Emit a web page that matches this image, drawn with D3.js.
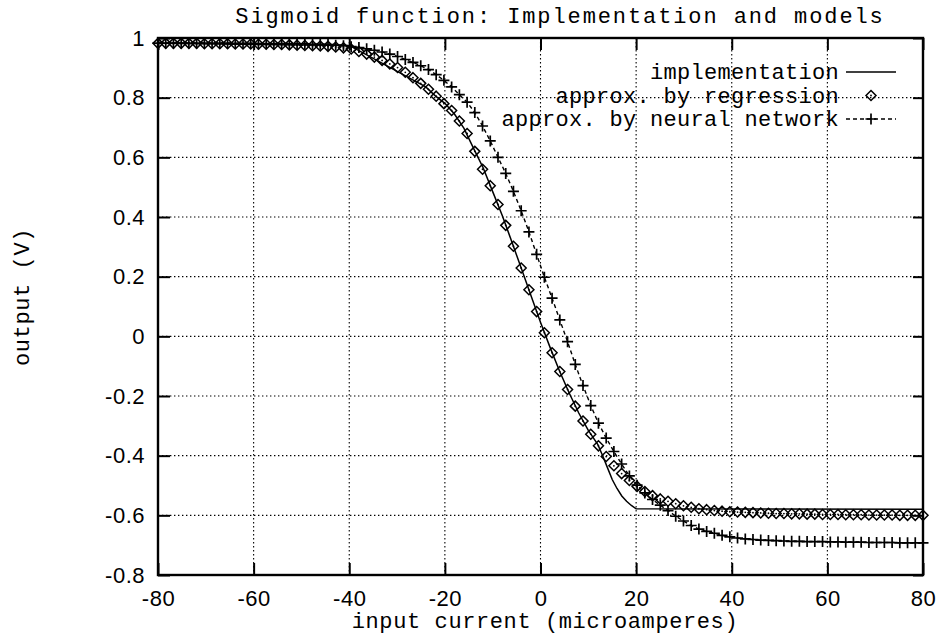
<!DOCTYPE html>
<html>
<head>
<meta charset="utf-8">
<script src="https://cdnjs.cloudflare.com/ajax/libs/d3/7.8.5/d3.min.js"></script>
<style>
body { margin: 0; background: #fff; }
svg { display: block; font-family: "Liberation Mono", "Courier New", monospace; }
.tick text { font-size: 22px; letter-spacing: 0.5px; fill: #000; }
.grid line { stroke: #000; stroke-width: 1.1; stroke-dasharray: 1.4,2.6; }
</style>
</head>
<body>
<svg width="939" height="639"></svg>
<script>
// tick values / labels
var xTicks = [-80, -60, -40, -20, 0, 20, 40, 60, 80];
var xTickLabels = ['-80', '-60', '-40', '-20', '0', '20', '40', '60', '80'];
var yTicks = [-0.8, -0.6, -0.4, -0.2, 0, 0.2, 0.4, 0.6, 0.8, 1];
var yTickLabels = ['-0.8', '-0.6', '-0.4', '-0.2', '0', '0.2', '0.4', '0.6', '0.8', '1'];

// implementation (measured curve)
var implX = [-80, -40, -24, -22, -20, -18, -16, -14, -12, -10, -8, -6, -4, -2, 0,
  2, 4, 6, 8, 10, 12, 13, 14, 15, 16, 17, 18, 19, 20, 80];
var implY = [0.982, 0.975, 0.836, 0.806, 0.781, 0.745, 0.697, 0.630, 0.565, 0.485, 0.405, 0.317, 0.227, 0.137, 0.047,
  -0.037, -0.117, -0.190, -0.257, -0.315, -0.363, -0.400, -0.440, -0.480, -0.510, -0.535, -0.553, -0.567, -0.578, -0.580];

// sample positions of the two models (100 samples)
var sampleX = [-80.00, -78.38, -76.77, -75.15, -73.54, -71.92, -70.30, -68.69, -67.07, -65.45,
  -63.84, -62.22, -60.61, -58.99, -57.37, -55.76, -54.14, -52.53, -50.91, -49.29,
  -47.68, -46.06, -44.44, -42.83, -41.21, -39.60, -37.98, -36.36, -34.75, -33.13,
  -31.52, -29.90, -28.28, -26.67, -25.05, -23.43, -21.82, -20.20, -18.59, -16.97,
  -15.35, -13.74, -12.12, -10.51, -8.89, -7.27, -5.66, -4.04, -2.42, -0.81,
  0.81, 2.42, 4.04, 5.66, 7.27, 8.89, 10.51, 12.12, 13.74, 15.35,
  16.97, 18.59, 20.20, 21.82, 23.43, 25.05, 26.67, 28.28, 29.90, 31.52,
  33.13, 34.75, 36.36, 37.98, 39.60, 41.21, 42.83, 44.44, 46.06, 47.68,
  49.29, 50.91, 52.53, 54.14, 55.76, 57.37, 58.99, 60.61, 62.22, 63.84,
  65.45, 67.07, 68.69, 70.30, 71.92, 73.54, 75.15, 76.77, 78.38, 80.00];

var regressionY = [0.982, 0.982, 0.982, 0.982, 0.982, 0.982, 0.981, 0.981, 0.981, 0.981,
  0.980, 0.980, 0.980, 0.979, 0.979, 0.978, 0.978, 0.977, 0.976, 0.975,
  0.974, 0.973, 0.972, 0.970, 0.967, 0.963, 0.955, 0.946, 0.936, 0.925,
  0.913, 0.901, 0.885, 0.867, 0.848, 0.828, 0.805, 0.780, 0.757, 0.722,
  0.680, 0.620, 0.560, 0.505, 0.442, 0.372, 0.302, 0.229, 0.156, 0.083,
  0.012, -0.055, -0.118, -0.178, -0.234, -0.284, -0.328, -0.367, -0.403, -0.434,
  -0.460, -0.483, -0.503, -0.520, -0.534, -0.545, -0.553, -0.561, -0.568, -0.573,
  -0.578, -0.581, -0.584, -0.586, -0.588, -0.589, -0.590, -0.591, -0.592, -0.593,
  -0.594, -0.594, -0.595, -0.595, -0.596, -0.596, -0.597, -0.597, -0.597, -0.598,
  -0.598, -0.598, -0.599, -0.599, -0.599, -0.599, -0.600, -0.600, -0.600, -0.600];

var neuralY = [0.983, 0.983, 0.983, 0.983, 0.983, 0.983, 0.983, 0.983, 0.983, 0.983,
  0.982, 0.982, 0.982, 0.981, 0.981, 0.981, 0.981, 0.980, 0.980, 0.980,
  0.979, 0.979, 0.978, 0.976, 0.974, 0.971, 0.968, 0.964, 0.959, 0.953,
  0.946, 0.938, 0.928, 0.918, 0.907, 0.894, 0.877, 0.858, 0.836, 0.810,
  0.785, 0.750, 0.705, 0.655, 0.600, 0.546, 0.486, 0.421, 0.350, 0.275,
  0.198, 0.128, 0.055, -0.018, -0.094, -0.165, -0.232, -0.291, -0.341, -0.386,
  -0.428, -0.468, -0.499, -0.525, -0.547, -0.566, -0.584, -0.603, -0.619, -0.634,
  -0.646, -0.654, -0.660, -0.667, -0.672, -0.676, -0.679, -0.681, -0.683, -0.684,
  -0.685, -0.686, -0.687, -0.687, -0.688, -0.688, -0.688, -0.689, -0.689, -0.690,
  -0.690, -0.690, -0.691, -0.691, -0.691, -0.691, -0.692, -0.692, -0.692, -0.692];

var legendLabels = ['implementation', 'approx. by regression', 'approx. by neural network'];

var margin = { top: 38, right: 16, bottom: 64, left: 158 };
var width = 939 - margin.left - margin.right;
var height = 639 - margin.top - margin.bottom;

var svg = d3.select('svg');
var g = svg.append('g')
    .attr('transform', 'translate(' + margin.left + ',' + margin.top + ')');

var x = d3.scaleLinear().domain([-80, 80]).range([0, width]);
var y = d3.scaleLinear().domain([-0.8, 1]).range([height, 0]);

// grid
var grid = g.append('g').attr('class', 'grid');
grid.selectAll('.gx')
    .data(xTicks.slice(1, -1))
    .enter().append('line')
    .attr('x1', function(d) { return x(d); })
    .attr('x2', function(d) { return x(d); })
    .attr('y1', 0)
    .attr('y2', height);
grid.selectAll('.gy')
    .data(yTicks.slice(1, -1))
    .enter().append('line')
    .attr('y1', function(d) { return y(d); })
    .attr('y2', function(d) { return y(d); })
    .attr('x1', 0)
    .attr('x2', width);

// axes
var xAxis = d3.axisBottom(x)
    .tickValues(xTicks)
    .tickFormat(function(d, i) { return xTickLabels[i]; })
    .tickSizeInner(-12).tickSizeOuter(0).tickPadding(15);
var yAxis = d3.axisLeft(y)
    .tickValues(yTicks)
    .tickFormat(function(d, i) { return yTickLabels[i]; })
    .tickSizeInner(-12).tickSizeOuter(0).tickPadding(13);

g.append('g').attr('transform', 'translate(0,' + height + ')').call(xAxis);
g.append('g').call(yAxis);
g.append('g').call(d3.axisTop(x).tickValues(xTicks).tickFormat('').tickSizeInner(-12).tickSizeOuter(0));
g.append('g').attr('transform', 'translate(' + width + ',0)')
    .call(d3.axisRight(y).tickValues(yTicks).tickFormat('').tickSizeInner(-10).tickSizeOuter(0));
g.selectAll('.domain').remove();
g.selectAll('.tick line').attr('stroke', '#000').attr('stroke-width', 2);
g.selectAll('.tick text').attr('font-family', null).attr('font-size', null);

// frame
g.append('rect')
    .attr('width', width).attr('height', height)
    .attr('fill', 'none').attr('stroke', '#000').attr('stroke-width', 2.4);

var plot = g.append('g');

// implementation
var implData = implX.map(function(d, i) { return [d, implY[i]]; });
var line = d3.line()
    .x(function(d) { return x(d[0]); })
    .y(function(d) { return y(d[1]); });

plot.append('path')
    .datum(implData)
    .attr('fill', 'none').attr('stroke', '#000').attr('stroke-width', 1.5)
    .attr('d', line);

// regression (diamonds)
var regData = sampleX.map(function(d, i) { return [d, regressionY[i]]; });
var nnData = sampleX.map(function(d, i) { return [d, neuralY[i]]; });

function diamond(sel, s) {
  sel.append('path')
      .attr('d', 'M0,' + (-s) + 'L' + s + ',0L0,' + s + 'L' + (-s) + ',0Z')
      .attr('fill', 'none').attr('stroke', '#000').attr('stroke-width', 1.5);
  sel.append('circle').attr('r', 0.9).attr('fill', '#000');
}
function cross(sel, s) {
  sel.append('path')
      .attr('d', 'M' + (-s) + ',0H' + s + 'M0,' + (-s) + 'V' + s)
      .attr('stroke', '#000').attr('stroke-width', 1.7);
}

plot.selectAll('.dia')
    .data(regData)
    .enter().append('g')
    .attr('transform', function(d) { return 'translate(' + x(d[0]) + ',' + y(d[1]) + ')'; })
    .call(diamond, 5);

// neural network (dashed line + crosses)
plot.append('path')
    .datum(nnData)
    .attr('fill', 'none').attr('stroke', '#000').attr('stroke-width', 1.4)
    .attr('stroke-dasharray', '4,3')
    .attr('d', line);

plot.selectAll('.crs')
    .data(nnData)
    .enter().append('g')
    .attr('transform', function(d) { return 'translate(' + x(d[0]) + ',' + y(d[1]) + ')'; })
    .call(cross, 5.5);

// legend
var legend = svg.append('g');
var rowY = [72, 95.5, 119];
legend.selectAll('text')
    .data(legendLabels)
    .enter().append('text')
    .attr('x', 839)
    .attr('y', function(d, i) { return rowY[i] + 7; })
    .attr('text-anchor', 'end')
    .style('font-size', '22px')
    .style('letter-spacing', '0.3px')
    .text(function(d) { return d; });

legend.append('line')
    .attr('x1', 846).attr('x2', 896).attr('y1', rowY[0]).attr('y2', rowY[0])
    .attr('stroke', '#000').attr('stroke-width', 1.5);
legend.append('g').attr('transform', 'translate(871,' + rowY[1] + ')').call(diamond, 5);
legend.append('line')
    .attr('x1', 846).attr('x2', 896).attr('y1', rowY[2]).attr('y2', rowY[2])
    .attr('stroke', '#000').attr('stroke-width', 1.4).attr('stroke-dasharray', '4,3');
legend.append('g').attr('transform', 'translate(871,' + rowY[2] + ')').call(cross, 5.5);

// titles
svg.append('text')
    .attr('x', 560).attr('y', 23)
    .attr('text-anchor', 'middle')
    .style('font-size', '22px')
    .style('letter-spacing', '1.9px')
    .text('Sigmoid function: Implementation and models');

svg.append('text')
    .attr('x', 545).attr('y', 628)
    .attr('text-anchor', 'middle')
    .style('font-size', '22px')
    .style('letter-spacing', '0.6px')
    .text('input current (microamperes)');

svg.append('text')
    .attr('transform', 'translate(29,297) rotate(-90)')
    .attr('text-anchor', 'middle')
    .style('font-size', '22px')
    .style('letter-spacing', '0.6px')
    .text('output (V)');
</script>
</body>
</html>
